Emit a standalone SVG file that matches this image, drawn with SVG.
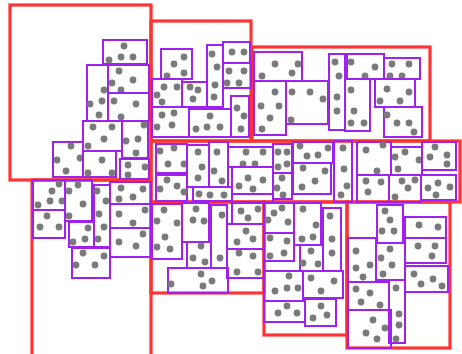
<svg xmlns="http://www.w3.org/2000/svg" width="462" height="354" viewBox="0 0 462 354">
<style>
.r{fill:none;stroke:#ff3333;stroke-width:3.2}
.p{fill:none;stroke:#a020f0;stroke-width:2}
circle{fill:#7a7a7a}
</style>
<rect width="462" height="354" fill="#ffffff"/>
<g id="regions">
<rect class="r" x="10" y="5" width="141" height="175"/>
<rect class="r" x="151" y="21" width="100" height="120"/>
<rect class="r" x="252" y="47" width="178" height="94"/>
<rect class="r" x="151" y="141" width="309" height="61"/>
<rect class="r" x="32" y="180" width="119" height="180"/>
<rect class="r" x="151" y="202" width="113" height="91"/>
<rect class="r" x="264" y="202" width="83" height="133"/>
<rect class="r" x="347" y="202" width="103" height="146"/>
</g>
<g id="boxes">
<g id="b1"><rect class="p" x="103" y="40" width="44" height="24"/><circle cx="124" cy="46" r="3.4"/><circle cx="109" cy="60" r="3.4"/><circle cx="121" cy="57" r="3.4"/><circle cx="133" cy="57" r="3.4"/></g>
<g id="b2"><rect class="p" x="87" y="65" width="21" height="56"/><circle cx="104" cy="90" r="3.4"/><circle cx="90" cy="104" r="3.4"/><circle cx="102" cy="101" r="3.4"/><circle cx="99" cy="115" r="3.4"/></g>
<g id="b3"><rect class="p" x="108" y="65" width="41" height="28"/><circle cx="119" cy="71" r="3.4"/><circle cx="112" cy="83" r="3.4"/><circle cx="133" cy="80" r="3.4"/><circle cx="121" cy="90" r="3.4"/></g>
<g id="b4"><rect class="p" x="108" y="93" width="41" height="28"/><circle cx="114" cy="101" r="3.4"/><circle cx="136" cy="104" r="3.4"/><circle cx="121" cy="117" r="3.4"/></g>
<g id="b5"><rect class="p" x="83" y="121" width="39" height="30"/><circle cx="93" cy="127" r="3.4"/><circle cx="112" cy="127" r="3.4"/><circle cx="104" cy="139" r="3.4"/><circle cx="88" cy="146" r="3.4"/></g>
<g id="b6"><rect class="p" x="122" y="121" width="26" height="37"/><circle cx="144" cy="125" r="3.4"/><circle cx="126" cy="141" r="3.4"/><circle cx="138" cy="139" r="3.4"/><circle cx="136" cy="153" r="3.4"/></g>
<g id="b7"><rect class="p" x="53" y="142" width="30" height="35"/><circle cx="71" cy="146" r="3.4"/><circle cx="57" cy="160" r="3.4"/><circle cx="80" cy="158" r="3.4"/><circle cx="66" cy="171" r="3.4"/></g>
<g id="b8"><rect class="p" x="83" y="151" width="33" height="26"/><circle cx="102" cy="160" r="3.4"/><circle cx="88" cy="173" r="3.4"/><circle cx="112" cy="173" r="3.4"/></g>
<g id="b9"><rect class="p" x="120" y="159" width="29" height="20"/><circle cx="128" cy="165" r="3.4"/><circle cx="145" cy="167" r="3.4"/><circle cx="128" cy="175" r="3.4"/></g>
<g id="b10"><rect class="p" x="33" y="180" width="32" height="30"/><circle cx="59" cy="184" r="3.4"/><circle cx="52" cy="191" r="3.4"/><circle cx="50" cy="201" r="3.4"/><circle cx="62" cy="201" r="3.4"/><circle cx="38" cy="205" r="3.4"/></g>
<g id="b11"><rect class="p" x="33" y="210" width="32" height="28"/><circle cx="47" cy="216" r="3.4"/><circle cx="40" cy="227" r="3.4"/><circle cx="59" cy="227" r="3.4"/></g>
<g id="b12"><rect class="p" x="65" y="180" width="27" height="41"/><circle cx="78" cy="185" r="3.4"/><circle cx="69" cy="191" r="3.4"/><circle cx="83" cy="204" r="3.4"/><circle cx="69" cy="216" r="3.4"/></g>
<g id="b13"><rect class="p" x="94" y="185" width="16" height="62"/><circle cx="97" cy="191" r="3.4"/><circle cx="106" cy="201" r="3.4"/><circle cx="99" cy="214" r="3.4"/><circle cx="104" cy="227" r="3.4"/><circle cx="98" cy="239" r="3.4"/></g>
<g id="b14"><rect class="p" x="69" y="222" width="25" height="25"/><circle cx="88" cy="228" r="3.4"/><circle cx="73" cy="242" r="3.4"/><circle cx="85" cy="239" r="3.4"/></g>
<g id="b15"><rect class="p" x="110" y="182" width="41" height="22"/><circle cx="121" cy="188" r="3.4"/><circle cx="143" cy="189" r="3.4"/><circle cx="119" cy="199" r="3.4"/><circle cx="133" cy="197" r="3.4"/></g>
<g id="b16"><rect class="p" x="110" y="204" width="41" height="24"/><circle cx="119" cy="214" r="3.4"/><circle cx="145" cy="210" r="3.4"/><circle cx="133" cy="223" r="3.4"/></g>
<g id="b17"><rect class="p" x="110" y="228" width="41" height="29"/><circle cx="143" cy="234" r="3.4"/><circle cx="119" cy="242" r="3.4"/><circle cx="136" cy="246" r="3.4"/></g>
<g id="b18"><rect class="p" x="72" y="248" width="38" height="30"/><circle cx="83" cy="253" r="3.4"/><circle cx="104" cy="256" r="3.4"/><circle cx="76" cy="265" r="3.4"/><circle cx="95" cy="265" r="3.4"/></g>
<g id="b19"><rect class="p" x="161" y="49" width="31" height="30"/><circle cx="184" cy="57" r="3.4"/><circle cx="174" cy="64" r="3.4"/><circle cx="167" cy="76" r="3.4"/><circle cx="184" cy="73" r="3.4"/></g>
<g id="b20"><rect class="p" x="207" y="45" width="16" height="62"/><circle cx="212" cy="54" r="3.4"/><circle cx="217" cy="67" r="3.4"/><circle cx="215" cy="85" r="3.4"/><circle cx="214" cy="97" r="3.4"/></g>
<g id="b21"><rect class="p" x="223" y="42" width="27" height="21"/><circle cx="232" cy="52" r="3.4"/><circle cx="244" cy="52" r="3.4"/></g>
<g id="b22"><rect class="p" x="223" y="63" width="28" height="25"/><circle cx="229" cy="71" r="3.4"/><circle cx="244" cy="71" r="3.4"/><circle cx="227" cy="83" r="3.4"/><circle cx="239" cy="83" r="3.4"/></g>
<g id="b23"><rect class="p" x="231" y="96" width="18" height="41"/><circle cx="237" cy="108" r="3.4"/><circle cx="244" cy="116" r="3.4"/><circle cx="241" cy="129" r="3.4"/></g>
<g id="b24"><rect class="p" x="152" y="79" width="30" height="28"/><circle cx="164" cy="87" r="3.4"/><circle cx="177" cy="87" r="3.4"/><circle cx="157" cy="95" r="3.4"/><circle cx="162" cy="102" r="3.4"/></g>
<g id="b25"><rect class="p" x="182" y="82" width="25" height="25"/><circle cx="190" cy="87" r="3.4"/><circle cx="198" cy="90" r="3.4"/><circle cx="193" cy="99" r="3.4"/></g>
<g id="b26"><rect class="p" x="152" y="107" width="37" height="30"/><circle cx="162" cy="115" r="3.4"/><circle cx="174" cy="113" r="3.4"/><circle cx="157" cy="127" r="3.4"/><circle cx="172" cy="125" r="3.4"/></g>
<g id="b27"><rect class="p" x="189" y="109" width="42" height="28"/><circle cx="210" cy="116" r="3.4"/><circle cx="196" cy="129" r="3.4"/><circle cx="207" cy="127" r="3.4"/><circle cx="220" cy="127" r="3.4"/></g>
<g id="b28"><rect class="p" x="254" y="52" width="48" height="29"/><circle cx="275" cy="64" r="3.4"/><circle cx="298" cy="64" r="3.4"/><circle cx="262" cy="76" r="3.4"/><circle cx="292" cy="73" r="3.4"/></g>
<g id="b29"><rect class="p" x="254" y="81" width="32" height="54"/><circle cx="275" cy="92" r="3.4"/><circle cx="261" cy="106" r="3.4"/><circle cx="279" cy="106" r="3.4"/><circle cx="270" cy="118" r="3.4"/><circle cx="262" cy="129" r="3.4"/></g>
<g id="b30"><rect class="p" x="286" y="81" width="42" height="43"/><circle cx="292" cy="92" r="3.4"/><circle cx="310" cy="92" r="3.4"/><circle cx="323" cy="99" r="3.4"/><circle cx="291" cy="120" r="3.4"/></g>
<g id="b31"><rect class="p" x="329" y="54" width="16" height="76"/><circle cx="335" cy="62" r="3.4"/><circle cx="339" cy="76" r="3.4"/><circle cx="337" cy="97" r="3.4"/><circle cx="337" cy="111" r="3.4"/></g>
<g id="b32"><rect class="p" x="347" y="54" width="37" height="25"/><circle cx="351" cy="62" r="3.4"/><circle cx="375" cy="67" r="3.4"/><circle cx="365" cy="76" r="3.4"/></g>
<g id="b33"><rect class="p" x="384" y="58" width="36" height="21"/><circle cx="392" cy="64" r="3.4"/><circle cx="409" cy="64" r="3.4"/><circle cx="390" cy="76" r="3.4"/><circle cx="402" cy="76" r="3.4"/></g>
<g id="b34"><rect class="p" x="345" y="79" width="25" height="52"/><circle cx="351" cy="90" r="3.4"/><circle cx="354" cy="111" r="3.4"/><circle cx="351" cy="123" r="3.4"/><circle cx="364" cy="123" r="3.4"/></g>
<g id="b35"><rect class="p" x="375" y="79" width="40" height="28"/><circle cx="387" cy="89" r="3.4"/><circle cx="409" cy="92" r="3.4"/><circle cx="380" cy="101" r="3.4"/><circle cx="400" cy="101" r="3.4"/></g>
<g id="b36"><rect class="p" x="384" y="107" width="38" height="30"/><circle cx="387" cy="115" r="3.4"/><circle cx="397" cy="123" r="3.4"/><circle cx="409" cy="123" r="3.4"/><circle cx="414" cy="132" r="3.4"/></g>
<g id="b37"><rect class="p" x="156" y="144" width="31" height="29"/><circle cx="174" cy="148" r="3.4"/><circle cx="160" cy="151" r="3.4"/><circle cx="168" cy="164" r="3.4"/><circle cx="184" cy="164" r="3.4"/></g>
<g id="b38"><rect class="p" x="156" y="175" width="31" height="26"/><circle cx="167" cy="180" r="3.4"/><circle cx="160" cy="189" r="3.4"/><circle cx="177" cy="186" r="3.4"/><circle cx="184" cy="192" r="3.4"/></g>
<g id="b39"><rect class="p" x="187" y="145" width="22" height="42"/><circle cx="198" cy="152" r="3.4"/><circle cx="202" cy="167" r="3.4"/><circle cx="198" cy="178" r="3.4"/></g>
<g id="b40"><rect class="p" x="209" y="142" width="19" height="45"/><circle cx="217" cy="152" r="3.4"/><circle cx="214" cy="171" r="3.4"/><circle cx="222" cy="181" r="3.4"/></g>
<g id="b41"><rect class="p" x="193" y="187" width="39" height="14"/><circle cx="199" cy="194" r="3.4"/><circle cx="210" cy="195" r="3.4"/><circle cx="224" cy="195" r="3.4"/></g>
<g id="b42"><rect class="p" x="228" y="147" width="45" height="20"/><circle cx="246" cy="152" r="3.4"/><circle cx="263" cy="152" r="3.4"/><circle cx="243" cy="164" r="3.4"/><circle cx="255" cy="164" r="3.4"/></g>
<g id="b43"><rect class="p" x="232" y="167" width="41" height="27"/><circle cx="248" cy="178" r="3.4"/><circle cx="263" cy="180" r="3.4"/><circle cx="239" cy="186" r="3.4"/><circle cx="253" cy="189" r="3.4"/></g>
<g id="b44"><rect class="p" x="232" y="194" width="41" height="8"/></g>
<g id="b45"><rect class="p" x="273" y="144" width="19" height="29"/><circle cx="278" cy="152" r="3.4"/><circle cx="287" cy="152" r="3.4"/><circle cx="278" cy="167" r="3.4"/><circle cx="287" cy="164" r="3.4"/></g>
<g id="b46"><rect class="p" x="273" y="173" width="19" height="26"/><circle cx="282" cy="178" r="3.4"/><circle cx="277" cy="188" r="3.4"/><circle cx="283" cy="195" r="3.4"/></g>
<g id="b47"><rect class="p" x="293" y="142" width="40" height="21"/><circle cx="300" cy="146" r="3.4"/><circle cx="307" cy="156" r="3.4"/><circle cx="318" cy="155" r="3.4"/><circle cx="328" cy="148" r="3.4"/></g>
<g id="b48"><rect class="p" x="293" y="163" width="38" height="31"/><circle cx="303" cy="168" r="3.4"/><circle cx="302" cy="187" r="3.4"/><circle cx="325" cy="171" r="3.4"/><circle cx="315" cy="181" r="3.4"/></g>
<g id="b49"><rect class="p" x="334" y="141" width="18" height="61"/><circle cx="343" cy="148" r="3.4"/><circle cx="344" cy="169" r="3.4"/><circle cx="347" cy="186" r="3.4"/><circle cx="341" cy="195" r="3.4"/></g>
<g id="b50"><rect class="p" x="357" y="142" width="34" height="33"/><circle cx="366" cy="150" r="3.4"/><circle cx="383" cy="145" r="3.4"/><circle cx="377" cy="171" r="3.4"/></g>
<g id="b51"><rect class="p" x="391" y="147" width="31" height="28"/><circle cx="405" cy="152" r="3.4"/><circle cx="395" cy="157" r="3.4"/><circle cx="419" cy="160" r="3.4"/><circle cx="398" cy="169" r="3.4"/></g>
<g id="b52"><rect class="p" x="422" y="142" width="34" height="28"/><circle cx="435" cy="147" r="3.4"/><circle cx="430" cy="157" r="3.4"/><circle cx="447" cy="155" r="3.4"/><circle cx="447" cy="164" r="3.4"/></g>
<g id="b53"><rect class="p" x="357" y="175" width="32" height="27"/><circle cx="366" cy="181" r="3.4"/><circle cx="381" cy="182" r="3.4"/><circle cx="368" cy="192" r="3.4"/></g>
<g id="b54"><rect class="p" x="389" y="175" width="32" height="27"/><circle cx="402" cy="181" r="3.4"/><circle cx="415" cy="180" r="3.4"/><circle cx="408" cy="188" r="3.4"/><circle cx="395" cy="197" r="3.4"/></g>
<g id="b55"><rect class="p" x="421" y="175" width="35" height="25"/><circle cx="428" cy="188" r="3.4"/><circle cx="438" cy="183" r="3.4"/><circle cx="450" cy="187" r="3.4"/><circle cx="436" cy="195" r="3.4"/></g>
<g id="b56"><rect class="p" x="152" y="204" width="30" height="55"/><circle cx="164" cy="210" r="3.4"/><circle cx="157" cy="221" r="3.4"/><circle cx="177" cy="223" r="3.4"/><circle cx="165" cy="237" r="3.4"/><circle cx="157" cy="247" r="3.4"/><circle cx="170" cy="249" r="3.4"/></g>
<g id="b57"><rect class="p" x="182" y="203" width="27" height="39"/><circle cx="196" cy="209" r="3.4"/><circle cx="193" cy="220" r="3.4"/><circle cx="204" cy="221" r="3.4"/></g>
<g id="b58"><rect class="p" x="187" y="242" width="24" height="26"/><circle cx="201" cy="246" r="3.4"/><circle cx="193" cy="258" r="3.4"/><circle cx="205" cy="262" r="3.4"/></g>
<g id="b59"><rect class="p" x="211" y="205" width="16" height="63"/><circle cx="222" cy="215" r="3.4"/><circle cx="220" cy="258" r="3.4"/></g>
<g id="b60"><rect class="p" x="232" y="203" width="32" height="21"/><circle cx="241" cy="211" r="3.4"/><circle cx="258" cy="209" r="3.4"/><circle cx="248" cy="218" r="3.4"/></g>
<g id="b61"><rect class="p" x="227" y="224" width="37" height="25"/><circle cx="246" cy="231" r="3.4"/><circle cx="237" cy="242" r="3.4"/><circle cx="253" cy="239" r="3.4"/></g>
<g id="b62"><rect class="p" x="227" y="249" width="37" height="29"/><circle cx="239" cy="253" r="3.4"/><circle cx="253" cy="256" r="3.4"/><circle cx="237" cy="272" r="3.4"/><circle cx="258" cy="272" r="3.4"/></g>
<g id="b63"><rect class="p" x="168" y="268" width="60" height="25"/><circle cx="201" cy="274" r="3.4"/><circle cx="212" cy="281" r="3.4"/><circle cx="203" cy="286" r="3.4"/><circle cx="171" cy="284" r="3.4"/></g>
<g id="b64"><rect class="p" x="264" y="203" width="30" height="30"/><circle cx="282" cy="208" r="3.4"/><circle cx="274" cy="213" r="3.4"/><circle cx="268" cy="220" r="3.4"/><circle cx="288" cy="222" r="3.4"/></g>
<g id="b65"><rect class="p" x="264" y="233" width="30" height="28"/><circle cx="270" cy="238" r="3.4"/><circle cx="287" cy="241" r="3.4"/><circle cx="270" cy="256" r="3.4"/><circle cx="284" cy="253" r="3.4"/></g>
<g id="b66"><rect class="p" x="294" y="203" width="27" height="42"/><circle cx="303" cy="209" r="3.4"/><circle cx="316" cy="225" r="3.4"/><circle cx="313" cy="237" r="3.4"/><circle cx="302" cy="239" r="3.4"/></g>
<g id="b67"><rect class="p" x="300" y="245" width="23" height="26"/><circle cx="311" cy="251" r="3.4"/><circle cx="303" cy="263" r="3.4"/><circle cx="318" cy="264" r="3.4"/></g>
<g id="b68"><rect class="p" x="323" y="208" width="18" height="63"/><circle cx="330" cy="216" r="3.4"/><circle cx="332" cy="239" r="3.4"/><circle cx="332" cy="253" r="3.4"/></g>
<g id="b69"><rect class="p" x="264" y="271" width="39" height="30"/><circle cx="289" cy="276" r="3.4"/><circle cx="275" cy="291" r="3.4"/><circle cx="287" cy="288" r="3.4"/><circle cx="298" cy="288" r="3.4"/></g>
<g id="b70"><rect class="p" x="303" y="271" width="40" height="27"/><circle cx="311" cy="278" r="3.4"/><circle cx="334" cy="281" r="3.4"/><circle cx="321" cy="291" r="3.4"/></g>
<g id="b71"><rect class="p" x="264" y="301" width="41" height="21"/><circle cx="287" cy="306" r="3.4"/><circle cx="278" cy="313" r="3.4"/><circle cx="297" cy="313" r="3.4"/></g>
<g id="b72"><rect class="p" x="305" y="299" width="31" height="27"/><circle cx="321" cy="306" r="3.4"/><circle cx="313" cy="318" r="3.4"/><circle cx="327" cy="315" r="3.4"/></g>
<g id="b73"><rect class="p" x="377" y="205" width="26" height="38"/><circle cx="385" cy="211" r="3.4"/><circle cx="390" cy="220" r="3.4"/><circle cx="382" cy="231" r="3.4"/><circle cx="394" cy="231" r="3.4"/></g>
<g id="b74"><rect class="p" x="405" y="217" width="41" height="21"/><circle cx="419" cy="225" r="3.4"/><circle cx="438" cy="227" r="3.4"/></g>
<g id="b75"><rect class="p" x="405" y="238" width="41" height="25"/><circle cx="418" cy="246" r="3.4"/><circle cx="435" cy="246" r="3.4"/><circle cx="432" cy="256" r="3.4"/></g>
<g id="b76"><rect class="p" x="405" y="266" width="43" height="26"/><circle cx="414" cy="274" r="3.4"/><circle cx="421" cy="284" r="3.4"/><circle cx="433" cy="279" r="3.4"/><circle cx="442" cy="286" r="3.4"/></g>
<g id="b77"><rect class="p" x="348" y="238" width="28" height="44"/><circle cx="356" cy="251" r="3.4"/><circle cx="356" cy="268" r="3.4"/><circle cx="370" cy="265" r="3.4"/><circle cx="363" cy="277" r="3.4"/></g>
<g id="b78"><rect class="p" x="376" y="243" width="29" height="37"/><circle cx="390" cy="249" r="3.4"/><circle cx="381" cy="258" r="3.4"/><circle cx="392" cy="265" r="3.4"/><circle cx="383" cy="274" r="3.4"/></g>
<g id="b79"><rect class="p" x="348" y="282" width="41" height="28"/><circle cx="356" cy="289" r="3.4"/><circle cx="370" cy="293" r="3.4"/><circle cx="361" cy="302" r="3.4"/><circle cx="380" cy="305" r="3.4"/></g>
<g id="b80"><rect class="p" x="389" y="280" width="16" height="63"/><circle cx="396" cy="288" r="3.4"/><circle cx="399" cy="314" r="3.4"/><circle cx="399" cy="325" r="3.4"/><circle cx="396" cy="339" r="3.4"/></g>
<g id="b81"><rect class="p" x="348" y="310" width="43" height="38"/><circle cx="373" cy="320" r="3.4"/><circle cx="366" cy="333" r="3.4"/><circle cx="385" cy="328" r="3.4"/><circle cx="377" cy="339" r="3.4"/></g>
</g>
<g id="connectors"/>
</svg>
